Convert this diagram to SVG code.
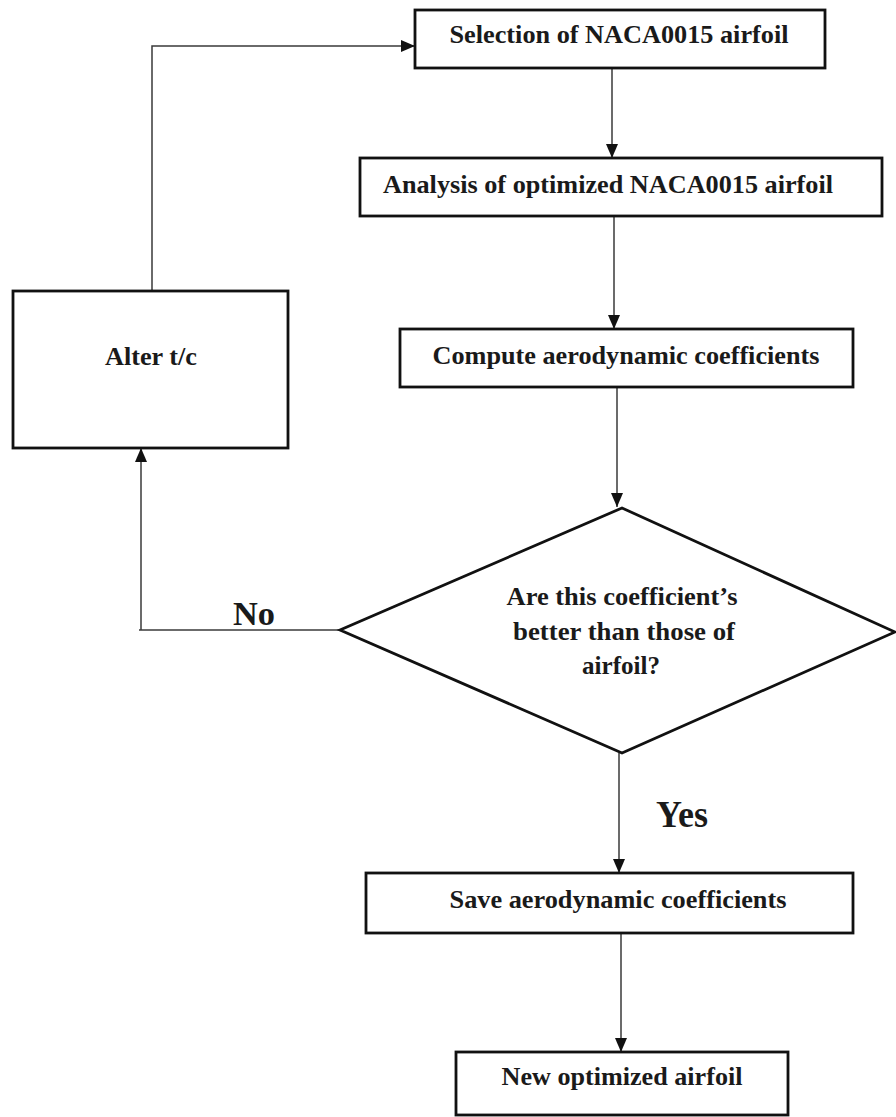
<svg xmlns="http://www.w3.org/2000/svg" width="896" height="1117" viewBox="0 0 896 1117">
<style>
.box{fill:#fff;stroke:#111;stroke-width:2.8}
.t{font-family:"Liberation Serif","Times New Roman",serif;font-weight:bold;font-size:26px;fill:#1a1a1a;text-anchor:middle}
.c{fill:none;stroke:#3a3a3a;stroke-width:1.5}
</style>
<defs>
<marker id="ah" markerWidth="14" markerHeight="12" refX="14" refY="6" orient="auto" markerUnits="userSpaceOnUse">
<path d="M0,0 L14,6 L0,12 Z" fill="#111"/>
</marker>
</defs>
<rect width="896" height="1117" fill="#fff"/>
<g id="connectors">
<path class="c" d="M612,68 V158" marker-end="url(#ah)"/>
<path class="c" d="M614,216 V329" marker-end="url(#ah)"/>
<path class="c" d="M617,387 V507" marker-end="url(#ah)"/>
<path class="c" d="M340,630 H139"/>
<path class="c" d="M141,630 V448" marker-end="url(#ah)"/>
<path class="c" d="M152,291 V46 H415" marker-end="url(#ah)"/>
<path class="c" d="M619,753 V873" marker-end="url(#ah)"/>
<path class="c" d="M621,933 V1052" marker-end="url(#ah)"/>
<text class="t" x="254" y="625" style="font-size:34px" textLength="42" lengthAdjust="spacingAndGlyphs">No</text>
<text class="t" x="682" y="827" style="font-size:37px" textLength="52" lengthAdjust="spacingAndGlyphs">Yes</text>
</g>
<g id="n1"><rect class="box" x="415" y="10" width="410" height="58"/><text class="t" x="619" y="43" textLength="339" lengthAdjust="spacingAndGlyphs">Selection of NACA0015 airfoil</text></g>
<g id="n2"><rect class="box" x="360" y="158" width="522" height="58"/><text class="t" x="608" y="193" textLength="450" lengthAdjust="spacingAndGlyphs">Analysis of optimized NACA0015 airfoil</text></g>
<g id="n3"><rect class="box" x="400" y="329" width="453" height="58"/><text class="t" x="626" y="364" textLength="387" lengthAdjust="spacingAndGlyphs">Compute aerodynamic coefficients</text></g>
<g id="n4"><rect class="box" x="13" y="291" width="275" height="157"/><text class="t" x="151" y="365" textLength="92" lengthAdjust="spacingAndGlyphs">Alter t/c</text></g>
<g id="n5"><path class="box" d="M622,508 L895,632 L622,753 L340,630 Z"/><text class="t" x="622" y="605" textLength="231" lengthAdjust="spacingAndGlyphs">Are this coefficient’s</text><text class="t" x="624" y="640" textLength="222" lengthAdjust="spacingAndGlyphs">better than those of</text><text class="t" x="621" y="674" textLength="78" lengthAdjust="spacingAndGlyphs">airfoil?</text></g>
<g id="n6"><rect class="box" x="366" y="873" width="487" height="60"/><text class="t" x="618" y="908" textLength="337" lengthAdjust="spacingAndGlyphs">Save aerodynamic coefficients</text></g>
<g id="n7"><rect class="box" x="456" y="1052" width="332" height="63"/><text class="t" x="622" y="1085" textLength="241" lengthAdjust="spacingAndGlyphs">New optimized airfoil</text></g>
</svg>
